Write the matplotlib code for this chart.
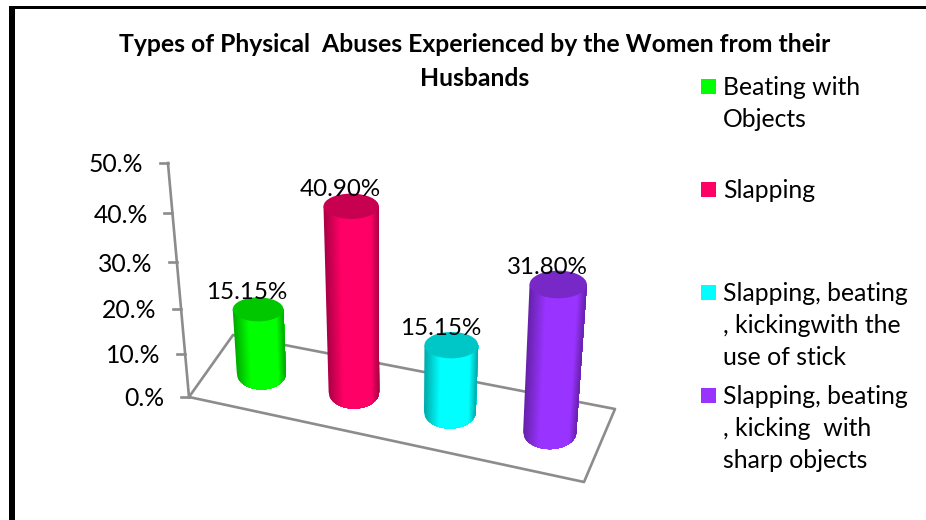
#!/usr/bin/env python3
"""
Cylinder chart of physical abuse types, drawn with a small 3D-looking projection.
"""

import numpy as np
import matplotlib
matplotlib.use("Agg")
import matplotlib.pyplot as plt
from matplotlib.colors import to_rgb
from matplotlib.patches import Ellipse, Rectangle

# Chart data
title_lines = ["Types of Physical  Abuses Experienced by the Women from their", "Husbands"]
categories = [
    "Beating with\nObjects",
    "Slapping",
    "Slapping, beating\n, kickingwith the\nuse of stick",
    "Slapping, beating\n, kicking  with\nsharp objects",
]
values = [15.15, 40.90, 15.15, 31.80]
value_labels = ["15.15%", "40.90%", "15.15%", "31.80%"]
colors = ["#00FF00", "#FF0066", "#00FFFF", "#9933FF"]
axis_ticks = [0, 10, 20, 30, 40, 50]
axis_tick_labels = ["0.%", "10.%", "20.%", "30.%", "40.%", "50.%"]

# Floor corners in pixels
FL = np.array([189.0, 397.0])
FR = np.array([584.0, 482.0])
BL = np.array([233.0, 335.0])
BR = np.array([615.0, 409.0])
BAR_DEPTH = 0.54

FONT = "Lato"
GREY = "#8c8c8c"


def project(u, w, v=0.0):
    """Map floor position u, depth w and percent value v to pixel x, y."""
    u2 = u - 0.06 * u * (1 - u) + 0.12 * u * (1 - u) ** 6
    base = FL + u2 * (FR - FL) + w * (BL - FL) + u2 * w * (BR - BL - FR + FL)
    height = (4.22 * v + 0.0092 * v ** 2) * (1 - 0.075 * w + 0.08 * u)
    lean = -0.09 + 0.144 * u + 0.04 * w
    return base[0] + lean * height, base[1] - height


def shade(color, t):
    """Darken the side of a cylinder towards its edges, t runs from -1 to 1."""
    left = np.clip((t + 1) / 0.6, 0, 1)
    right = np.clip((1 - t) / 0.3, 0, 1)
    return np.array(to_rgb(color)) * (0.66 + 0.34 * min(left, right))


def draw_cylinder(ax, i, value, color):
    u = (i + 0.5) / len(values)
    fx, fy = project(u, BAR_DEPTH)
    tx, ty = project(u, BAR_DEPTH, value)
    frx = 24.5 + 0.7 * i
    fry = 16 + 0.3 * i
    trx = frx * (1 + 0.0024 * value)
    try_ = 12 + 0.6 * i

    # Each strip runs to the right edge, so the next one paints over its seam
    edges = np.linspace(-1, 1, 61)
    for a, b in zip(edges[:-1], edges[1:]):
        t = np.linspace(a, 1, 40)
        xs = np.concatenate([fx + frx * t, [tx + trx, tx + trx * a]])
        ys = np.concatenate([fy + fry * np.sqrt(1 - t ** 2), [ty, ty]])
        ax.fill(xs, ys, color=shade(color, (a + b) / 2), lw=0, zorder=3)

    top = np.array(to_rgb(color)) * 0.78
    ax.add_patch(Ellipse((tx, ty), 2 * trx, 2 * try_, fc=top, ec="none", zorder=4))
    return tx, ty


def main():
    fig = plt.figure(figsize=(9.26, 5.2), dpi=100, facecolor="white")
    ax = fig.add_axes([0, 0, 1, 1])
    ax.set_xlim(0, 926)
    ax.set_ylim(520, 0)
    ax.axis("off")

    # Outer frame of the slide
    ax.add_patch(Rectangle((9, 6), 6, 514, fc="black", ec="none"))
    ax.add_patch(Rectangle((9, 6), 917, 2.6, fc="black", ec="none"))

    # Title
    for line, y in zip(title_lines, [44.5, 78.5]):
        ax.text(475, y, line, ha="center", va="center", fontsize=17.8,
                fontweight="bold", family=FONT, color="black")

    # Floor and value axis
    corners = [FL, FR, BR, BL, FL]
    ax.plot([c[0] for c in corners], [c[1] for c in corners], color=GREY, lw=1.9, zorder=1)
    top_x, top_y = project(0, 0, axis_ticks[-1])
    ax.plot([FL[0], top_x], [FL[1], top_y], color=GREY, lw=1.9, zorder=1)
    for tick, label in zip(axis_ticks, axis_tick_labels):
        x, y = project(0, 0, tick)
        ax.plot([x - 8, x], [y, y], color=GREY, lw=1.9, zorder=1)
        ax.text(x - 24.5, y + 2, label, ha="right", va="center", fontsize=17.8,
                family=FONT, color="black")

    # Cylinders and their labels
    for i, (value, color, label) in enumerate(zip(values, colors, value_labels)):
        tx, ty = draw_cylinder(ax, i, value, color)
        ax.text(tx - 11, ty - 17, label, ha="center", va="center", fontsize=17.4,
                family=FONT, color="black", zorder=5)

    # Legend, the entries are not evenly spaced in the original
    for name, color, y in zip(categories, colors, [86.5, 189.5, 292.5, 395.5]):
        ax.add_patch(Rectangle((701, y - 7.5), 15, 15, fc=color, ec="none"))
        for k, line in enumerate(name.split("\n")):
            ax.text(723, y + 1 + 32 * k, line, ha="left", va="center", fontsize=17.8,
                    family=FONT, color="black")

    fig.savefig("out.png", dpi=100)


if __name__ == "__main__":
    main()
